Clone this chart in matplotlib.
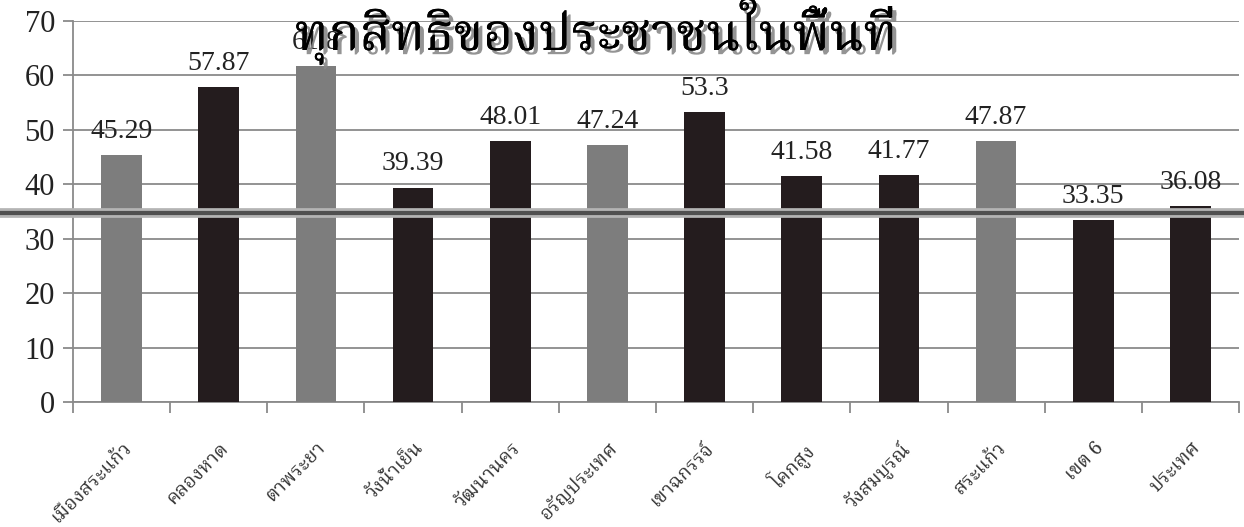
import matplotlib
matplotlib.use('Agg')
import matplotlib.pyplot as plt
import matplotlib.patheffects as pe
from matplotlib import font_manager
import numpy as np

districts = ['เมืองสระแก้ว', 'คลองหาด', 'ตาพระยา', 'วังน้ำเย็น', 'วัฒนานคร', 'อรัญประเทศ',
             'เขาฉกรรจ์', 'โคกสูง', 'วังสมบูรณ์', 'สระแก้ว', 'เขต 6', 'ประเทศ']
values = [45.29, 57.87, 61.8, 39.39, 48.01, 47.24, 53.3, 41.58, 41.77, 47.87, 33.35, 36.08]
labels = ['45.29', '57.87', '61.8', '39.39', '48.01', '47.24', '53.3', '41.58', '41.77', '47.87', '33.35', '36.08']
highlight = [True, False, True, False, False, True, False, False, False, True, False, False]
target = 34.7
title = 'ทุกสิทธิของประชาชนในพื้นที่'

# pick a thai font that is really installed
have = {f.name for f in font_manager.fontManager.ttflist}
def pick(names):
    for n in names:
        if n in have:
            return n
    return 'DejaVu Sans'

thai_title = pick(['Noto Serif Thai', 'Noto Sans Thai Looped', 'Pridi', 'Noto Sans Thai'])
thai_tick = pick(['Noto Serif Thai', 'Sarabun', 'Noto Sans Thai Looped', 'Noto Sans Thai'])
serif = 'Liberation Serif'

fig = plt.figure(figsize=(12.44, 5.27), dpi=100)
ax = fig.add_axes([73 / 1244, 1 - 402 / 527, 1166 / 1244, 381 / 527])

x = np.arange(len(districts))
colors = ['#7d7d7d' if h else '#241c1e' for h in highlight]
bars = ax.bar(x, values, width=0.42, color=colors, zorder=3)

for b, s in zip(bars, labels):
    ax.annotate(s, (b.get_x() + b.get_width() / 2, b.get_height()), xytext=(0, 8),
                textcoords='offset points', ha='center', va='bottom',
                fontsize=20, family=serif, color='#222222', zorder=4)

ax.set_xlim(-0.5, len(districts) - 0.5)
ax.set_ylim(0, 70)
ax.set_yticks(np.arange(0, 71, 10))
ax.yaxis.grid(True, color='#8a8a8a', linewidth=1.3, zorder=0)
ax.set_axisbelow(True)

for side in ['top', 'right']:
    ax.spines[side].set_visible(False)
ax.spines['left'].set_color('#8a8a8a')
ax.spines['bottom'].set_color('#8a8a8a')
ax.spines['left'].set_linewidth(1.3)
ax.spines['bottom'].set_linewidth(1.3)

ax.tick_params(axis='y', length=7, width=1.3, color='#8a8a8a', pad=6, labelsize=22)
for t in ax.get_yticklabels():
    t.set_family(serif)
    t.set_color('#222222')

# ticks between the categories, labels under the bars
ax.set_xticks(x)
ax.set_xticklabels(districts, rotation=45, ha='right', rotation_mode='anchor',
                   family=[thai_tick, 'DejaVu Sans'], fontsize=14, color='#333333')
ax.set_xticks(np.arange(-0.5, len(districts)), minor=True)
ax.tick_params(axis='x', which='major', length=0, pad=26)
ax.tick_params(axis='x', which='minor', length=8, width=1.3, color='#8a8a8a')

# thick reference line across the whole picture
ax.axhline(target, xmin=-0.07, xmax=1.01, color='#b4b4b4', linewidth=7, clip_on=False, zorder=5)
ax.axhline(target, xmin=-0.07, xmax=1.01, color='#505050', linewidth=3, clip_on=False, zorder=6)

fig.text(0.479, 1 - 50 / 527, title, ha='center', va='baseline', fontsize=37,
         fontweight='black', family=[thai_title, 'DejaVu Sans'], color='black', zorder=10,
         path_effects=[pe.withSimplePatchShadow(offset=(3, -3), shadow_rgbFace='#888888', alpha=0.9),
                       pe.Normal()])

fig.savefig('out.png')
